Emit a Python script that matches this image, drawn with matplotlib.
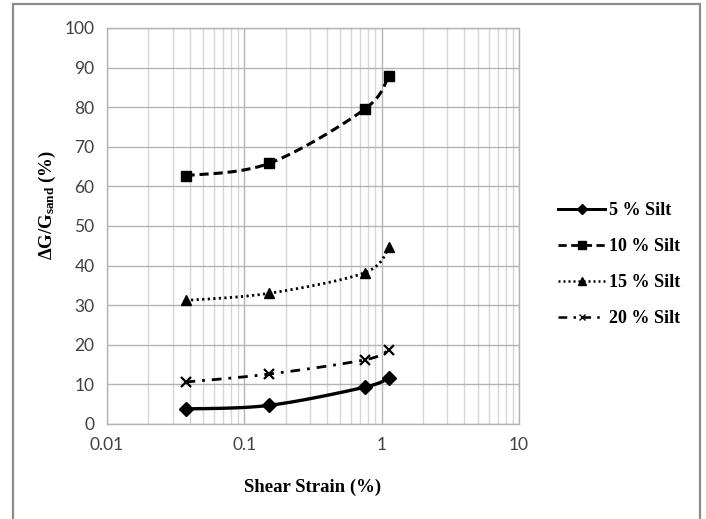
import numpy as np
import matplotlib
matplotlib.use("Agg")
import matplotlib.pyplot as plt
from matplotlib.patches import Rectangle
from matplotlib.lines import Line2D

# Shear strain (%) at which each mix was tested
strain = [0.0373, 0.1507, 0.752, 1.13]

# Modulus increase relative to clean sand (%)
silt_5 = [3.8, 4.7, 9.3, 11.7]
silt_10 = [62.7, 65.8, 79.5, 88.0]
silt_15 = [31.2, 33.0, 38.2, 44.6]
silt_20 = [10.6, 12.6, 16.2, 18.7]

labels = ["5 % Silt", "10 % Silt", "15 % Silt", "20 % Silt"]
y_ticks = [0, 10, 20, 30, 40, 50, 60, 70, 80, 90, 100]
x_ticks = [0.01, 0.1, 1, 10]
x_ticklabels = ["0.01", "0.1", "1", "10"]

plt.rcParams["mathtext.fontset"] = "custom"
plt.rcParams["mathtext.rm"] = "Liberation Serif:bold"
plt.rcParams["mathtext.it"] = "Liberation Serif:bold"
plt.rcParams["mathtext.bf"] = "Liberation Serif:bold"

W, H = 706, 519
fig = plt.figure(figsize=(W / 100, H / 100), dpi=100)
fig.patch.set_facecolor("white")

# outer chart frame (open at the bottom edge)
fig.patches.append(Rectangle((13 / W, -0.05), (700 - 13) / W, 1.05 - 4 / H,
                             transform=fig.transFigure, fill=False,
                             edgecolor="#8c8c8c", linewidth=1.6))

ax = fig.add_axes([107 / W, 1 - 424 / H, (519 - 107) / W, (424 - 28) / H])
ax.set_xscale("log")
ax.set_xlim(0.01, 10)
ax.set_ylim(0, 100)
ax.set_yticks(y_ticks)
ax.set_xticks(x_ticks)
ax.set_xticklabels(x_ticklabels)
ax.tick_params(axis="both", which="both", length=0, labelsize=12.5,
               labelcolor="#404040", pad=9)
for lab in ax.get_xticklabels() + ax.get_yticklabels():
    lab.set_family("Lato")
ax.grid(True, which="major", color="#b4b4b4", linewidth=1.0)
ax.grid(True, which="minor", axis="x", color="#d6d6d6", linewidth=1.0)
ax.set_axisbelow(True)
for s in ax.spines.values():
    s.set_color("#b4b4b4")
    s.set_linewidth(1.0)


def smooth(xs, ys, n=40):
    """Catmull-Rom style smoothing computed in screen space."""
    pts = ax.transData.transform(np.column_stack([xs, ys]))
    p = np.vstack([pts[0], pts, pts[-1]])
    out = []
    for i in range(1, len(p) - 2):
        p0, p1, p2, p3 = p[i - 1], p[i], p[i + 1], p[i + 2]
        b1 = p1 + (p2 - p0) / 6.0
        b2 = p2 - (p3 - p1) / 6.0
        t = np.linspace(0, 1, n)[:, None]
        seg = ((1 - t) ** 3) * p1 + 3 * ((1 - t) ** 2) * t * b1 \
            + 3 * (1 - t) * t ** 2 * b2 + t ** 3 * p2
        out.append(seg if i == 1 else seg[1:])
    curve = np.vstack(out)
    data = ax.transData.inverted().transform(curve)
    return data[:, 0], data[:, 1]


series = [
    (silt_5, dict(linestyle="-", linewidth=2.4), dict(marker="D", markersize=7.5)),
    (silt_10, dict(linestyle=(0, (3.0, 1.6)), linewidth=2.2), dict(marker="s", markersize=7.5)),
    (silt_15, dict(linestyle=(0, (0.8, 1.2)), linewidth=2.0), dict(marker="^", markersize=7.5)),
    (silt_20, dict(linestyle=(0, (3.5, 2.5, 1.0, 2.5)), linewidth=2.0),
     dict(marker="x", markersize=7, markeredgewidth=1.6)),
]

handles = []
for (vals, lstyle, mstyle), lab in zip(series, labels):
    sx, sy = smooth(strain, vals)
    ax.plot(sx, sy, color="black", solid_capstyle="butt", dash_capstyle="butt", **lstyle)
    ax.plot(strain, vals, linestyle="none", color="black", **mstyle)
    lh = dict(lstyle)
    lh["linewidth"] = lstyle["linewidth"] * 0.9
    mh = dict(mstyle)
    mh["markersize"] = mstyle["markersize"] * 0.7
    if "markeredgewidth" in mh:
        mh["markeredgewidth"] = 1.0
    handles.append(Line2D([], [], color="black", dash_capstyle="butt", **lh, **mh))

leg = fig.legend(handles, labels, loc="upper left",
                 bbox_to_anchor=(551 / W, 1 - 195 / H),
                 frameon=False, handlelength=2.6, handletextpad=0.2,
                 labelspacing=1.05, borderaxespad=0,
                 prop={"family": "Liberation Serif", "weight": "bold", "size": 13})

ax.set_xlabel("Shear Strain (%)", family="Liberation Serif", fontweight="bold",
              fontsize=13.5, labelpad=19)
fig.text(47 / W, 1 - 205 / H, r"$\Delta$G/G$_{\mathregular{sand}}$ (%)",
         rotation=90, ha="center", va="center",
         family="Liberation Serif", fontweight="bold", fontsize=13.5)

fig.savefig("out.png", dpi=100, facecolor="white")
